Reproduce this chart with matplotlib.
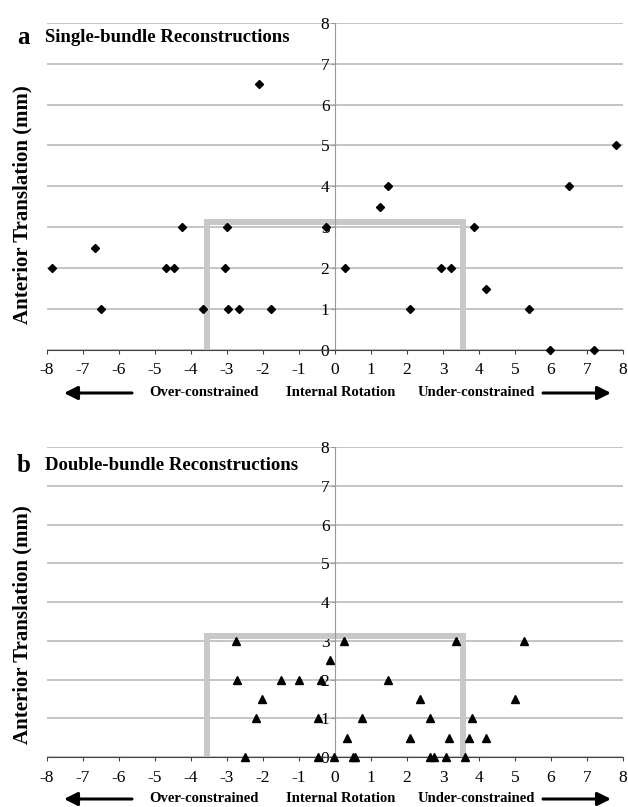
import matplotlib
matplotlib.use("Agg")
import matplotlib.pyplot as plt

plt.rcParams['font.family'] = ['Liberation Serif', 'DejaVu Serif']
plt.rcParams['axes.unicode_minus'] = False

# single-bundle reconstructions (internal rotation, anterior translation)
sb_rotation = [-7.87, -6.67, -6.5, -4.69, -4.48, -4.25, -3.68, -3.05, -3.0, -2.96,
               -2.66, -2.1, -1.79, -0.26, 0.27, 1.25, 1.46, 2.09, 2.95, 3.21,
               3.86, 4.2, 5.4, 5.98, 6.51, 7.19, 7.8]
sb_translation = [2, 2.5, 1, 2, 2, 3, 1, 2, 3, 1,
                  1, 6.5, 1, 3, 2, 3.5, 4, 1, 2, 2,
                  3, 1.5, 1, 0, 4, 0, 5]

# double-bundle reconstructions
db_rotation = [-2.76, -2.72, -2.51, -2.2, -2.02, -1.5, -1.01, -0.48, -0.46, -0.39,
               -0.13, -0.02, 0.24, 0.34, 0.49, 0.55, 0.75, 1.46, 2.09, 2.35,
               2.63, 2.63, 2.76, 3.09, 3.16, 3.37, 3.6, 3.72, 3.8, 4.19,
               4.99, 5.25]
db_translation = [3, 2, 0, 1, 1.5, 2, 2, 1, 0, 2,
                  2.5, 0, 3, 0.5, 0, 0, 1, 2, 0.5, 1.5,
                  1, 0, 0, 0, 0.5, 3, 0, 0.5, 1, 0.5,
                  1.5, 3]

# "normal" zone box
box_x = [-3.55, -3.55, 3.55, 3.55]
box_y = [0, 3.12, 3.12, 0]

x_ticks = list(range(-8, 9))
y_ticks = list(range(0, 9))

W, H = 628, 807
fig = plt.figure(figsize=(W / 100, H / 100), dpi=100)


def fx(px):
    return px / W


def fy(py):
    return 1 - py / H


def setup(ax):
    ax.set_xlim(-8, 8)
    ax.set_ylim(0, 8)
    ax.set_xticks(x_ticks)
    ax.set_yticks(y_ticks)
    ax.yaxis.grid(True, color='#b4b4b4', lw=1.1)
    ax.set_axisbelow(True)
    for s in ['top', 'right']:
        ax.spines[s].set_visible(False)
    ax.spines['left'].set_position(('data', 0))
    ax.spines['left'].set_color('#999999')
    ax.spines['bottom'].set_color('#444444')
    ax.tick_params(axis='x', length=3, width=0.8, color='#444444', pad=6, labelsize=12.5)
    ax.tick_params(axis='y', length=3, width=0.8, color='#999999', pad=1, labelsize=12.5)
    ax.plot(box_x, box_y, color='#c8c8c8', lw=4.3, solid_joinstyle='miter', zorder=2)


ax1 = fig.add_axes([fx(47), fy(350), fx(576), (350 - 22.7) / H])
setup(ax1)
ax1.plot(sb_rotation, sb_translation, 'D', color='black', ms=4, zorder=3, clip_on=False)

ax2 = fig.add_axes([fx(47), fy(757), fx(576), (757 - 447.3) / H])
setup(ax2)
ax2.plot(db_rotation, db_translation, '^', color='black', ms=6, zorder=3, clip_on=False)

# panel titles
for letter, title, py in [('a', 'Single-bundle Reconstructions', 38),
                          ('b', 'Double-bundle Reconstructions', 465)]:
    fig.text(fx(23.5), fy(py), letter, fontsize=18, fontweight='bold', ha='center', va='center')
    fig.text(fx(45), fy(py), title, fontsize=13.5, fontweight='bold', ha='left', va='center')

# y labels
for py in [205, 625]:
    fig.text(fx(22), fy(py), 'Anterior Translation (mm)', fontsize=15, fontweight='bold',
             rotation=90, ha='center', va='center')

# direction row under each x axis
for py in [393, 799]:
    fig.text(fx(203.5), fy(py), 'Over-constrained', fontsize=10.5, fontweight='bold', ha='center', va='center')
    fig.text(fx(341), fy(py), 'Internal Rotation', fontsize=10.5, fontweight='bold', ha='center', va='center')
    fig.text(fx(476), fy(py), 'Under-constrained', fontsize=10.5, fontweight='bold', ha='center', va='center')
    arrow = dict(arrowstyle='-|>', lw=2.2, color='black', mutation_scale=20, shrinkA=0, shrinkB=0)
    fig.add_artist(matplotlib.patches.FancyArrowPatch((fx(132), fy(py)), (fx(64), fy(py)),
                                                      transform=fig.transFigure, **arrow))
    fig.add_artist(matplotlib.patches.FancyArrowPatch((fx(543), fy(py)), (fx(611), fy(py)),
                                                      transform=fig.transFigure, **arrow))

fig.savefig('out.png', dpi=100)
